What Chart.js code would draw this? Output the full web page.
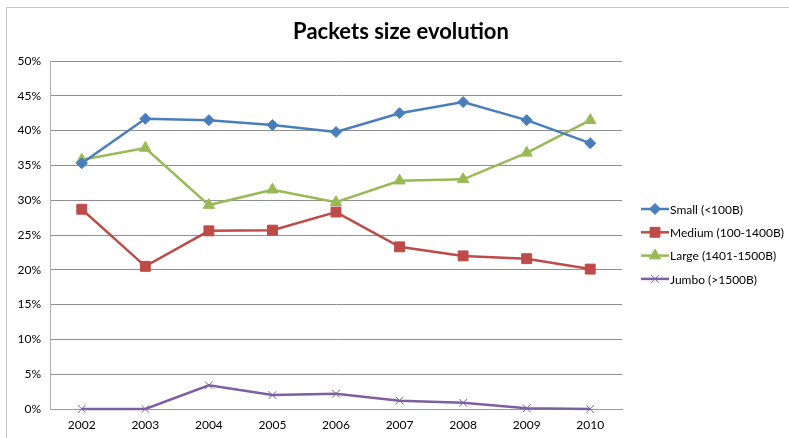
<!DOCTYPE html>
<html>
<head>
<meta charset="utf-8">
<script src="https://cdn.jsdelivr.net/npm/chart.js@4.4.1/dist/chart.umd.min.js"></script>
<style>
  html, body { margin: 0; padding: 0; background: #fff; overflow: hidden; }
  #wrap { position: relative; width: 789px; height: 438px; }
  #frame { position: absolute; left: 6px; top: 7px; width: 900px; height: 600px; border: 1px solid #c8c8c8; }
  #packetsChart { position: absolute; left: 0; top: 0; }
</style>
</head>
<body>
<div id="wrap">
  <div id="frame"></div>
  <canvas id="packetsChart" width="789" height="438"></canvas>
</div>
<script>
// values (percent)
const years = ['2002', '2003', '2004', '2005', '2006', '2007', '2008', '2009', '2010'];
const seriesNames = ['Small (<100B)', 'Medium (100-1400B)', 'Large (1401-1500B)', 'Jumbo (>1500B)'];
const small  = [35.3, 41.7, 41.5, 40.8, 39.8, 42.5, 44.1, 41.5, 38.2];
const medium = [28.7, 20.5, 25.6, 25.7, 28.3, 23.3, 22.0, 21.6, 20.1];
const large  = [35.8, 37.5, 29.3, 31.5, 29.7, 32.8, 33.0, 36.8, 41.5];
const jumbo  = [0.0, 0.0, 3.4, 2.0, 2.2, 1.2, 0.9, 0.1, 0.0];
const chartTitle = 'Packets size evolution';

const font = "Lato, 'Liberation Sans', sans-serif";

function series(label, data, color, style, radius) {
    return {
        label: label,
        data: data,
        borderColor: color,
        backgroundColor: color,
        borderWidth: 2.5,
        pointStyle: style,
        pointRadius: radius,
        pointHoverRadius: radius,
        pointBackgroundColor: color,
        pointBorderColor: color,
        pointBorderWidth: 1,
        tension: 0,
        clip: false
    };
}

// title centred on the whole picture, legend drawn by hand (line + marker)
const titleAndLegend = {
    id: 'titleAndLegend',
    afterDraw(chart) {
        const ctx = chart.ctx;
        ctx.save();
        ctx.fillStyle = '#000';
        ctx.font = 'bold 22px ' + font;
        ctx.textAlign = 'center';
        ctx.textBaseline = 'middle';
        ctx.fillText(chartTitle, 401, 32);
        ctx.restore();

        const x0 = 641, x1 = 669, top = 209, step = 23.3;
        chart.data.datasets.forEach((ds, i) => {
            const y = top + i * step;
            ctx.save();
            ctx.strokeStyle = ds.borderColor;
            ctx.lineWidth = 2.5;
            ctx.beginPath();
            ctx.moveTo(x0, y);
            ctx.lineTo(x1, y);
            ctx.stroke();
            ctx.fillStyle = ds.pointBackgroundColor;
            ctx.strokeStyle = ds.pointBorderColor;
            ctx.lineWidth = 1;
            Chart.helpers.drawPoint(ctx, { pointStyle: ds.pointStyle, radius: ds.pointRadius, borderWidth: 1 }, (x0 + x1) / 2, y);
            ctx.fillStyle = '#000';
            ctx.font = '12px ' + font;
            ctx.textBaseline = 'middle';
            ctx.textAlign = 'left';
            ctx.fillText(ds.label, x1 + 1, y + 1);
            ctx.restore();
        });
    }
};

const data = {
    labels: years,
    datasets: [
        series(seriesNames[0], small, '#4A7EBB', 'rectRot', 5.5),
        series(seriesNames[1], medium, '#BE4B48', 'rect', 7),
        series(seriesNames[2], large, '#98B954', 'triangle', 6.5),
        series(seriesNames[3], jumbo, '#7D60A0', 'crossRot', 5.5)
    ]
};

const config = {
    type: 'line',
    data: data,
    options: {
        responsive: false,
        animation: false,
        layout: {
            padding: { left: 0, right: 167, top: 61, bottom: 0 }
        },
        plugins: {
            legend: { display: false },
            tooltip: { enabled: false },
            title: { display: false }
        },
        scales: {
            x: {
                offset: true,
                grid: { display: false, drawTicks: false },
                border: { display: true, color: '#9a9a9a', width: 1 },
                ticks: { color: '#000', font: { family: font, size: 12 }, padding: 9, maxRotation: 0 },
                afterFit: (scale) => { scale.height = 29; }
            },
            y: {
                min: 0,
                max: 50,
                grid: { color: '#8f8f8f', lineWidth: 1, drawTicks: false },
                border: { display: true, color: '#b0b0b0', width: 1 },
                ticks: {
                    stepSize: 5,
                    color: '#000',
                    padding: 9,
                    font: { family: font, size: 12 },
                    callback: (v) => v + '%'
                },
                afterFit: (scale) => { scale.width = 50; }
            }
        }
    },
    plugins: [titleAndLegend]
};

const myChart = new Chart(
    document.getElementById('packetsChart'),
    config
);
</script>
</body>
</html>
